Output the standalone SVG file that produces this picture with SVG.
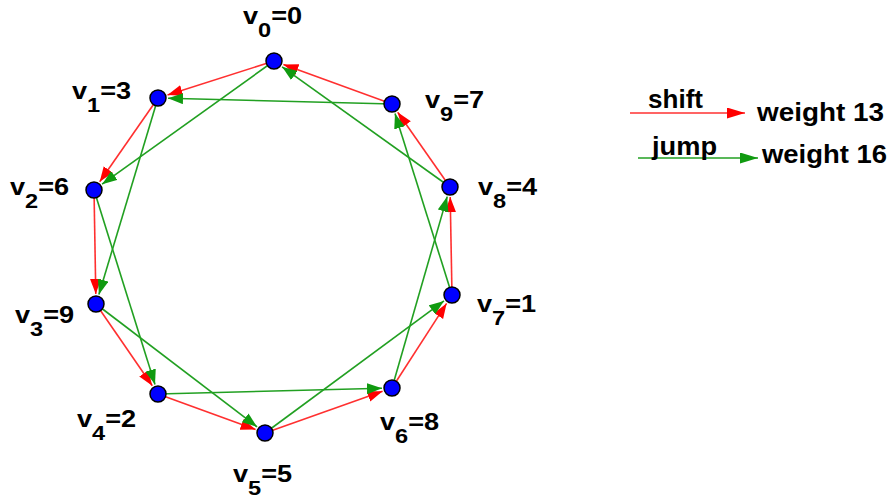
<svg xmlns="http://www.w3.org/2000/svg" width="893" height="498" viewBox="0 0 893 498">
<style>
.shift{stroke:#ff3030;stroke-width:1.6;fill:none}
.jump{stroke:#22a022;stroke-width:1.6;fill:none}
.node{fill:#0000ff;stroke:#000;stroke-width:1.5}
.lbl{font-family:"Liberation Sans",Arial,sans-serif;font-weight:bold;font-size:23px;fill:#000}
.sub{font-size:20px}
.leg{font-family:"Liberation Sans",Arial,sans-serif;font-weight:bold;font-size:25px;fill:#000}
</style>
<defs>
<marker id="ar" markerUnits="userSpaceOnUse" markerWidth="16" markerHeight="12" refX="15" refY="5.5" orient="auto"><path d="M0,0 L15,5.5 L0,11 z" fill="#ff0000"/></marker>
<marker id="ag" markerUnits="userSpaceOnUse" markerWidth="16" markerHeight="12" refX="15" refY="5.5" orient="auto"><path d="M0,0 L15,5.5 L0,11 z" fill="#109a10"/></marker>
<marker id="arL" markerUnits="userSpaceOnUse" markerWidth="19" markerHeight="12" refX="18" refY="5.5" orient="auto"><path d="M0,0 L18,5.5 L0,11 z" fill="#ff0000"/></marker>
<marker id="agL" markerUnits="userSpaceOnUse" markerWidth="19" markerHeight="12" refX="18" refY="5.5" orient="auto"><path d="M0,0 L18,5.5 L0,11 z" fill="#109a10"/></marker>
</defs>
<g id="connectors">
<line class="shift" x1="274" y1="61" x2="167.5" y2="95" marker-end="url(#ar)"/>
<line class="shift" x1="158" y1="98" x2="99.7" y2="181.8" marker-end="url(#ar)"/>
<line class="shift" x1="94" y1="190" x2="95.8" y2="294" marker-end="url(#ar)"/>
<line class="shift" x1="96" y1="304" x2="152.3" y2="385.8" marker-end="url(#ar)"/>
<line class="shift" x1="158" y1="394" x2="255.6" y2="429.6" marker-end="url(#ar)"/>
<line class="shift" x1="265" y1="433" x2="382.6" y2="391.3" marker-end="url(#ar)"/>
<line class="shift" x1="392" y1="388" x2="446.6" y2="303.4" marker-end="url(#ar)"/>
<line class="shift" x1="452" y1="295" x2="450.2" y2="197" marker-end="url(#ar)"/>
<line class="shift" x1="450" y1="187" x2="397.7" y2="112.2" marker-end="url(#ar)"/>
<line class="shift" x1="392" y1="104" x2="283.4" y2="64.4" marker-end="url(#ar)"/>
<line class="jump" x1="274" y1="61" x2="102.1" y2="184.2" marker-end="url(#ag)"/>
<line class="jump" x1="158" y1="98" x2="98.9" y2="294.4" marker-end="url(#ag)"/>
<line class="jump" x1="94" y1="190" x2="155" y2="384.5" marker-end="url(#ag)"/>
<line class="jump" x1="96" y1="304" x2="257.1" y2="426.9" marker-end="url(#ag)"/>
<line class="jump" x1="158" y1="394" x2="382" y2="388.3" marker-end="url(#ag)"/>
<line class="jump" x1="265" y1="433" x2="444" y2="300.9" marker-end="url(#ag)"/>
<line class="jump" x1="392" y1="388" x2="447.2" y2="196.6" marker-end="url(#ag)"/>
<line class="jump" x1="452" y1="295" x2="395" y2="113.5" marker-end="url(#ag)"/>
<line class="jump" x1="450" y1="187" x2="282.1" y2="66.8" marker-end="url(#ag)"/>
<line class="jump" x1="392" y1="104" x2="168" y2="98.3" marker-end="url(#ag)"/>
</g>
<g id="v0"><circle class="node" cx="274" cy="61" r="8"/><text class="lbl" transform="translate(243,24) scale(1.18,1)">v<tspan class="sub" dy="13">0</tspan><tspan dy="-13">=0</tspan></text></g>
<g id="v1"><circle class="node" cx="158" cy="98" r="8"/><text class="lbl" transform="translate(72,99) scale(1.18,1)">v<tspan class="sub" dy="13">1</tspan><tspan dy="-13">=3</tspan></text></g>
<g id="v2"><circle class="node" cx="94" cy="190" r="8"/><text class="lbl" transform="translate(10,195) scale(1.18,1)">v<tspan class="sub" dy="13">2</tspan><tspan dy="-13">=6</tspan></text></g>
<g id="v3"><circle class="node" cx="96" cy="304" r="8"/><text class="lbl" transform="translate(15,323) scale(1.18,1)">v<tspan class="sub" dy="13">3</tspan><tspan dy="-13">=9</tspan></text></g>
<g id="v4"><circle class="node" cx="158" cy="394" r="8"/><text class="lbl" transform="translate(77,427) scale(1.18,1)">v<tspan class="sub" dy="13">4</tspan><tspan dy="-13">=2</tspan></text></g>
<g id="v5"><circle class="node" cx="265" cy="433" r="8"/><text class="lbl" transform="translate(233,482) scale(1.18,1)">v<tspan class="sub" dy="13">5</tspan><tspan dy="-13">=5</tspan></text></g>
<g id="v6"><circle class="node" cx="392" cy="388" r="8"/><text class="lbl" transform="translate(380,430) scale(1.18,1)">v<tspan class="sub" dy="13">6</tspan><tspan dy="-13">=8</tspan></text></g>
<g id="v7"><circle class="node" cx="452" cy="295" r="8"/><text class="lbl" transform="translate(477,312) scale(1.18,1)">v<tspan class="sub" dy="13">7</tspan><tspan dy="-13">=1</tspan></text></g>
<g id="v8"><circle class="node" cx="450" cy="187" r="8"/><text class="lbl" transform="translate(478,195) scale(1.18,1)">v<tspan class="sub" dy="13">8</tspan><tspan dy="-13">=4</tspan></text></g>
<g id="v9"><circle class="node" cx="392" cy="104" r="8"/><text class="lbl" transform="translate(425,108) scale(1.18,1)">v<tspan class="sub" dy="13">9</tspan><tspan dy="-13">=7</tspan></text></g>
<g id="legend">
<line class="shift" x1="630" y1="113" x2="745" y2="113" marker-end="url(#arL)"/>
<line class="jump" x1="638" y1="158" x2="758" y2="158" marker-end="url(#agL)"/>
<text class="leg" x="648" y="108" textLength="55" lengthAdjust="spacingAndGlyphs">shift</text>
<text class="leg" x="652" y="155" textLength="65" lengthAdjust="spacingAndGlyphs">jump</text>
<text class="leg" x="757" y="121" textLength="127" lengthAdjust="spacingAndGlyphs">weight 13</text>
<text class="leg" x="762" y="163" textLength="125" lengthAdjust="spacingAndGlyphs">weight 16</text>
</g>
</svg>
